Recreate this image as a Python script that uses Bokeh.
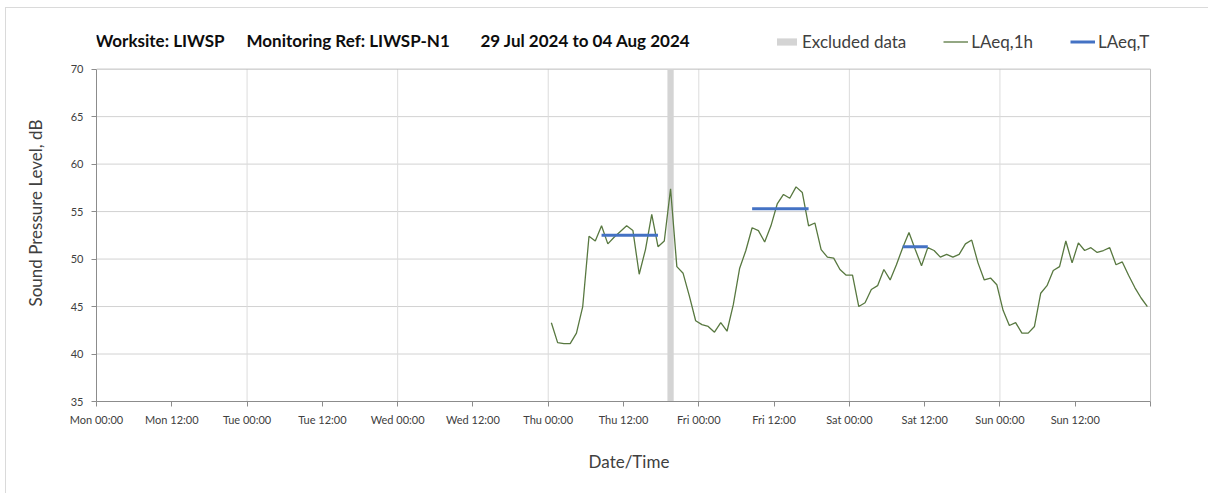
from bokeh.plotting import figure
from bokeh.models import FixedTicker, Label, Legend, LegendItem, Range1d
from bokeh.embed import file_html
from bokeh.resources import INLINE

FONT = "Lato"

# ---- data ----
tick_hours = [0, 12, 24, 36, 48, 60, 72, 84, 96, 108, 120, 132, 144, 156]
tick_labels = ["Mon 00:00", "Mon 12:00", "Tue 00:00", "Tue 12:00", "Wed 00:00", "Wed 12:00",
               "Thu 00:00", "Thu 12:00", "Fri 00:00", "Fri 12:00", "Sat 00:00", "Sat 12:00",
               "Sun 00:00", "Sun 12:00"]
day_grid_hours = [24, 48, 72, 96, 120, 144]
y_ticks = [35, 40, 45, 50, 55, 60, 65, 70]
y_grid = [40, 45, 50, 55, 60, 65]
x_min, x_max = 0, 168
y_min, y_max = 35, 70

# LAeq,1h hourly values, first value centred at Thu 00:30 (hours since Mon 00:00)
laeq1h_first_hour = 72.5
laeq1h = [43.3, 41.2, 41.1, 41.1, 42.2, 45.0, 52.4, 51.9, 53.5, 51.6, 52.3, 52.9,
          53.5, 53.0, 48.4, 51.0, 54.7, 51.3, 51.9, 57.4, 49.2, 48.5, 46.1, 43.5,
          43.1, 42.9, 42.3, 43.3, 42.4, 45.2, 49.0, 50.9, 53.3, 53.0, 51.8, 53.5,
          55.8, 56.8, 56.4, 57.6, 57.0, 53.5, 53.8, 51.0, 50.2, 50.1, 48.9, 48.3,
          48.3, 45.0, 45.4, 46.8, 47.2, 48.9, 47.8, 49.4, 51.2, 52.8, 51.0, 49.3,
          51.2, 50.9, 50.2, 50.5, 50.2, 50.5, 51.6, 52.0, 49.6, 47.8, 48.0, 47.3,
          44.6, 43.0, 43.3, 42.2, 42.2, 42.9, 46.4, 47.2, 48.8, 49.2, 51.9, 49.6,
          51.7, 50.9, 51.2, 50.7, 50.9, 51.2, 49.4, 49.7, 48.3, 47.0, 45.9, 45.0]
laeq1h_hours = [laeq1h_first_hour + i for i in range(len(laeq1h))]

# LAeq,T periods
laeqT_start = [80.5, 104.5, 128.5]
laeqT_end = [89.5, 113.5, 132.5]
laeqT_value = [52.5, 55.3, 51.3]

# Excluded data period
excl_start = [91.0]
excl_end = [92.0]

# ---- figure ----
# the frame is extended upward/rightward so that the heading and legend sit inside it
p = figure(width=1208, height=493, frame_width=1065, frame_height=377,
           min_border_left=96, min_border_right=47, min_border_top=24, min_border_bottom=92,
           x_range=Range1d(x_min, 169.75), y_range=Range1d(y_min, 74.7),
           output_backend="svg", toolbar_location=None)
p.background_fill_color = "white"
p.border_fill_color = None
p.styles = {"background": "linear-gradient(#dadada, #dadada) 5px 7px / 1px 100% no-repeat, "
                          "linear-gradient(#dadada, #dadada) 5px 7px / 100% 1px no-repeat, white"}
p.outline_line_color = None
p.xgrid.visible = False
p.ygrid.visible = False

# grid lines of the plot area
p.segment(x0=x_min, x1=x_max, y0=y_grid, y1=y_grid, line_color="#d2d2d2", line_width=1, level="underlay")
p.segment(x0=day_grid_hours, x1=day_grid_hours, y0=y_min, y1=y_max, line_color="#dcdcdc", line_width=1, level="underlay")
p.segment(x0=[x_min, x_max], x1=[x_max, x_max], y0=[y_max, y_min], y1=[y_max, y_max],
          line_color="#bdbdbd", line_width=1, level="underlay")

band = p.quad(left=excl_start, right=excl_end, bottom=y_min, top=y_max,
              fill_color="#d4d4d4", line_color=None)
line = p.line(laeq1h_hours, laeq1h, line_color="#587840", line_width=1.3)
seg = p.segment(x0=laeqT_start, y0=laeqT_value, x1=laeqT_end, y1=laeqT_value,
                line_color="#4472C4", line_width=3)

# axes
p.xaxis.ticker = FixedTicker(ticks=tick_hours + [x_max])
p.xaxis.major_label_overrides = {h: l for h, l in zip(tick_hours, tick_labels)}
p.xaxis.major_label_overrides[x_max] = ""
p.yaxis.ticker = FixedTicker(ticks=y_ticks)
p.xaxis.bounds = (x_min, x_max)
p.yaxis.bounds = (y_min, y_max)
for ax in (p.xaxis[0], p.yaxis[0]):
    ax.axis_line_color = "#8c8c8c"
    ax.major_tick_line_color = "#8c8c8c"
    ax.minor_tick_line_color = None
    ax.major_tick_in = 0
    ax.major_tick_out = 5
    ax.major_label_text_font = FONT
    ax.major_label_text_font_size = "11px"
    ax.major_label_text_color = "#404040"
    ax.axis_label_text_font = FONT
    ax.axis_label_text_font_style = "normal"
    ax.axis_label_text_font_size = "17px"
    ax.axis_label_text_color = "#404040"
p.xaxis.axis_label = "Date/Time"
p.yaxis.axis_label = "Sound Pressure Level, dB"
p.xaxis.major_label_standoff = 6
p.xaxis.axis_label_standoff = 22
p.yaxis.major_label_standoff = 8
p.yaxis.axis_label_standoff = 22

# heading pieces
for x, txt in [(-1, "Worksite: LIWSP"), (150, "Monitoring Ref: LIWSP-N1"), (384, "29 Jul 2024 to 04 Aug 2024")]:
    p.add_layout(Label(x=x, y=361, x_units="screen", y_units="screen", text=txt,
                       text_font=FONT, text_font_style="bold", text_font_size="17px",
                       text_color="#0d0d0d", text_baseline="alphabetic"))

legend = Legend(items=[LegendItem(label="Excluded data", renderers=[band]),
                       LegendItem(label="LAeq,1h", renderers=[line]),
                       LegendItem(label="LAeq,T", renderers=[seg])],
                orientation="horizontal", location=(678, 349),
                padding=0, margin=0, spacing=37, label_standoff=3,
                glyph_width=25, glyph_height=9, label_height=18,
                label_text_font=FONT, label_text_font_size="17px", label_text_color="#404040",
                border_line_color=None, background_fill_alpha=0)
p.add_layout(legend)

open("out.html", "w").write(file_html(p, INLINE))
